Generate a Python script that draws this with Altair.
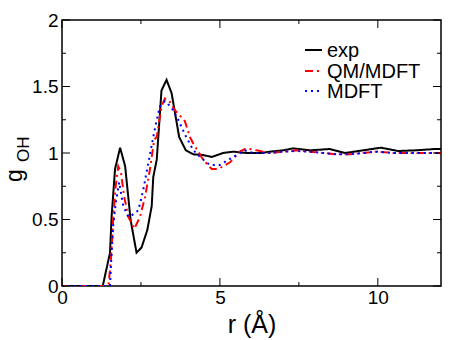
import altair as alt
import pandas as pd

# ---- data ----
series_names = ["exp", "QM/MDFT", "MDFT"]

exp_r = [0, 1.29, 1.41, 1.52, 1.57, 1.68, 1.84, 2.0, 2.17, 2.36, 2.52, 2.70, 2.84, 2.89, 3.0,
         3.15, 3.31, 3.47, 3.71, 3.92, 4.16, 4.47, 4.74, 5.1, 5.42, 5.85, 6.3, 6.58, 7.0,
         7.32, 7.85, 8.48, 8.96, 9.53, 10.1, 10.64, 11.2, 11.8, 12.0]
exp_g = [0, 0, 0.13, 0.25, 0.52, 0.88, 1.04, 0.90, 0.50, 0.25, 0.29, 0.42, 0.60, 0.82, 0.95,
         1.47, 1.55, 1.45, 1.12, 1.02, 0.99, 0.985, 0.97, 1.0, 1.01, 1.0, 1.0, 1.01, 1.02,
         1.035, 1.02, 1.03, 1.0, 1.02, 1.04, 1.015, 1.02, 1.03, 1.03]

qm_r = [0, 1.47, 1.55, 1.62, 1.70, 1.78, 1.87, 1.97, 2.10, 2.29, 2.47, 2.63, 2.78, 2.92, 3.0,
        3.15, 3.26, 3.40, 3.58, 3.89, 4.05, 4.16, 4.47, 4.58, 4.74, 4.95, 5.32, 5.63, 5.84,
        6.16, 6.58, 7.0, 7.43, 7.85, 8.27, 8.7, 9.1, 9.96, 10.5, 11.0, 12.0]
qm_g = [0, 0, 0.20, 0.50, 0.75, 0.90, 0.85, 0.67, 0.52, 0.43, 0.52, 0.67, 0.87, 1.10, 1.12,
        1.35, 1.41, 1.39, 1.32, 1.24, 1.12, 1.07, 0.95, 0.92, 0.88, 0.88, 0.93, 1.01, 1.035,
        1.02, 1.0, 1.01, 1.02, 1.01, 1.0, 0.99, 0.99, 1.01, 1.0, 1.0, 1.0]

mdft_r = [0, 1.52, 1.56, 1.62, 1.70, 1.81, 1.94, 2.10, 2.20, 2.42, 2.57, 2.73, 2.89, 3.0, 3.1,
          3.26, 3.47, 3.68, 3.89, 4.16, 4.42, 4.68, 5.0, 5.42, 5.79, 6.05, 6.58, 7.0, 7.43,
          7.85, 8.27, 8.7, 9.1, 9.96, 10.5, 12.0]
mdft_g = [0, 0, 0.20, 0.45, 0.62, 0.78, 0.60, 0.52, 0.53, 0.57, 0.72, 0.92, 1.12, 1.25, 1.35,
          1.39, 1.34, 1.25, 1.14, 1.02, 0.96, 0.91, 0.91, 0.97, 1.02, 1.0, 1.0, 1.01, 1.015,
          1.01, 1.0, 0.99, 0.99, 1.01, 1.0, 1.0]

x_major = [0, 5, 10]
x_minor = [2.5, 7.5]
y_major = [0, 0.5, 1, 1.5, 2]
y_minor = [0.25, 0.75, 1.25, 1.75]

colors = ["#000000", "#ff0000", "#0000ff"]
dashes = [[1, 0], [8, 4, 2, 4], [2, 4]]

W, H = 379, 266
FONT = "Liberation Sans"

frames = []
for name, rr, gg in [("exp", exp_r, exp_g), ("QM/MDFT", qm_r, qm_g), ("MDFT", mdft_r, mdft_g)]:
    frames.append(pd.DataFrame({"series": name, "r": rr, "g": gg}))
curves = pd.concat(frames, ignore_index=True)

xscale = alt.Scale(domain=[0, 12], nice=False, zero=False)
yscale = alt.Scale(domain=[0, 2], nice=False, zero=False)
cscale = alt.Scale(domain=series_names, range=colors)
dscale = alt.Scale(domain=series_names, range=dashes)

xaxis = alt.Axis(values=x_major, ticks=False, tickSize=0, domain=False, grid=False,
                 labelFlush=False, labelFontSize=19, labelFont=FONT, labelColor="black",
                 labelPadding=2,
                 title="r (Å)", titleFontSize=25, titleFont=FONT, titleFontWeight="normal",
                 titleColor="black", titlePadding=5)
yaxis = alt.Axis(values=y_major, ticks=False, tickSize=0, domain=False, grid=False,
                 labelFlush=False, format="~g", labelFontSize=19, labelFont=FONT,
                 labelColor="black", labelPadding=4, title=None)


def X():
    return alt.X("r:Q", scale=xscale, axis=xaxis)


def Y():
    return alt.Y("g:Q", scale=yscale, axis=yaxis)


lines = alt.Chart(curves).mark_line(strokeWidth=2, clip=True).encode(
    x=X(), y=Y(),
    color=alt.Color("series:N", scale=cscale, legend=None),
    strokeDash=alt.StrokeDash("series:N", scale=dscale, legend=None),
    order="r:Q",
)

layers = [lines]


def xticks(vals, length):
    df = pd.DataFrame({"r": vals})
    b = alt.Chart(df).mark_rule(color="black", strokeWidth=1).encode(
        x=X(), y=alt.value(H), y2=alt.value(H - length))
    t = alt.Chart(df).mark_rule(color="black", strokeWidth=1).encode(
        x=X(), y=alt.value(0), y2=alt.value(length))
    return [b, t]


def yticks(vals, length):
    df = pd.DataFrame({"g": vals})
    l = alt.Chart(df).mark_rule(color="black", strokeWidth=1).encode(
        y=Y(), x=alt.value(0), x2=alt.value(length))
    r = alt.Chart(df).mark_rule(color="black", strokeWidth=1).encode(
        y=Y(), x=alt.value(W), x2=alt.value(W - length))
    return [l, r]


layers += xticks(x_major, 8) + xticks(x_minor, 4) + yticks(y_major, 8) + yticks(y_minor, 4)

# legend
leg_y = [30, 51, 71]
for i, name in enumerate(series_names):
    df = pd.DataFrame({"series": [name]})
    layers.append(alt.Chart(df).mark_rule(strokeWidth=2).encode(
        x=alt.value(243), x2=alt.value(260), y=alt.value(leg_y[i]),
        color=alt.Color("series:N", scale=cscale, legend=None),
        strokeDash=alt.StrokeDash("series:N", scale=dscale, legend=None)))
    layers.append(alt.Chart(df).mark_text(align="left", baseline="middle", fontSize=20,
                                          font=FONT, color="black").encode(
        x=alt.value(265), y=alt.value(leg_y[i] + 1), text="series:N"))

# y-axis title g_OH
title_df = pd.DataFrame({"t": ["g"], "s": ["OH"]})
layers.append(alt.Chart(title_df).mark_text(angle=270, align="left", baseline="alphabetic",
                                            fontSize=23, font=FONT, color="black").encode(
    x=alt.value(-40), y=alt.value(162), text="t:N"))
layers.append(alt.Chart(title_df).mark_text(angle=270, align="left", baseline="alphabetic",
                                            fontSize=17, font=FONT, color="black").encode(
    x=alt.value(-33), y=alt.value(142), text="s:N"))

chart = alt.layer(*layers).properties(
    width=W, height=H,
    autosize=alt.AutoSizeParams(type="none"),
    padding={"left": 54, "top": 12, "right": 22, "bottom": 60},
).configure_view(stroke="black", strokeWidth=1.5)

chart.save("out.html", embed_options={"renderer": "svg", "actions": False})
